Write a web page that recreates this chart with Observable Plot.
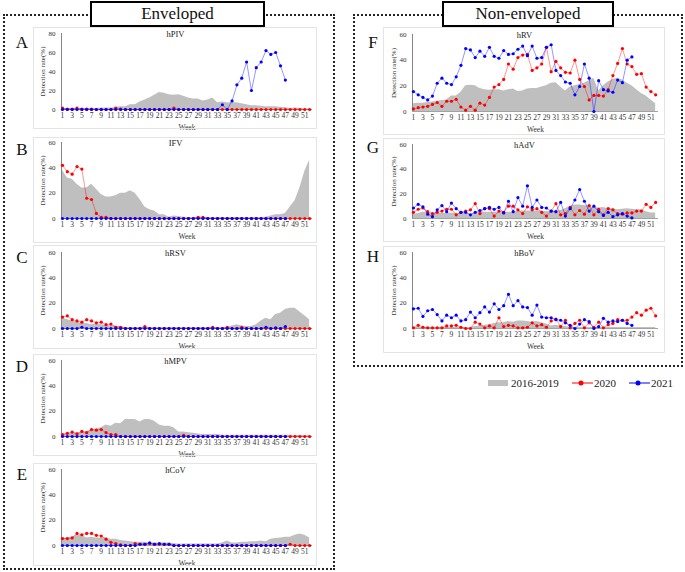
<!DOCTYPE html>
<html><head><meta charset="utf-8">
<script src="https://cdn.jsdelivr.net/npm/d3@7"></script>
<script src="https://cdn.jsdelivr.net/npm/@observablehq/plot@0.6"></script>
<style>
body{margin:0;background:#fff;font-family:"Liberation Serif","Times New Roman",serif;}
#root{position:relative;width:685px;height:572px;overflow:hidden;background:#fff;}
#root svg, #root svg text{font-family:"Liberation Serif","Times New Roman",serif !important;}
.dotbox{position:absolute;border:2px dotted #222;box-sizing:border-box;}
.titlebox{position:absolute;border:2px solid #000;background:#fff;box-sizing:border-box;font-size:17px;text-align:center;line-height:21px;color:#111;}
.letter{position:absolute;font-size:17px;transform:translate(-50%,-50%);color:#111;}
.panel{position:absolute;}
.panel svg{display:block;}
.pborder{position:absolute;border:1px solid #e4e4e4;box-sizing:border-box;pointer-events:none;}
</style>
</head><body><div id="root"></div>
<script>
const weeks = [1,2,3,4,5,6,7,8,9,10,11,12,13,14,15,16,17,18,19,20,21,22,23,24,25,26,27,28,29,30,31,32,33,34,35,36,37,38,39,40,41,42,43,44,45,46,47,48,49,50,51,52];
const oddWeeks = [1,3,5,7,9,11,13,15,17,19,21,23,25,27,29,31,33,35,37,39,41,43,45,47,49,51];
const yTicks80 = [0,20,40,60,80];
const yTicks60 = [0,20,40,60];
const seriesNames = ["2016-2019","2020","2021"];
const seriesColors = ["#bfbfbf","#ff0000","#0000ff"];

// A hPIV
const hPIV_base = [1,1,1,1,1,1,1,1,1.5,1.5,1.5,2,3,3,5,5,8,10,12,15,18,17,15.5,15,15.5,14,12,11,11,9,10,12,7,8,7,7,7,6,5,4,4,3.5,3,3,3,2.5,2,1,1.5,1,0.5,0.5];
const hPIV_2020 = [1.5,0.5,0.5,1.5,0.5,0.5,0.5,0,0,0,0,1.5,0.5,0,0,0,0,0,0,0,0,0,0,1.5,0,0,0,0,0,0,0,0,0,0,0,0,0,0,0,0,0,0,0,0,0,0,0,0,0,0,0,0];
const hPIV_2021 = [0,0,0,0,0,0,0,0,0,0,0,0,0,0,0,0,0,0,0,0,0,0,0,0,0,0,0,0,0,0,0,0,0,5,0,9,26,33,50,20,44,50,62,58,60,46,31];
// B IFV
const IFV_base = [38,32,31,27,24,24,27,23,19,17,17,18,20,20,22,20,15,9,7,6,3,3,1,2,1.5,1,0.7,0.7,0.7,0.7,0.7,0.7,0.7,0.7,0.7,0.7,0.7,0.7,0.7,0.7,0.7,0.7,1,2,3,3,4,9,14,24,37,46];
const IFV_2020 = [42,37,35,41,39,16,15,4,1,1,0,0,0,0,0,0,0,0,0,0,0,0,0,0,0,0,0,0,1,1,0,0,0,0,0,0,0,0,0,0,0,0,0,0,0,0,0,0,0,0,0,0];
const IFV_2021 = [0,0,0,0,0,0,0,0,0,0,0,0,0,0,0,0,0,0,0,0,0,0,0,0,0,0,0,0,0,0,0,0,0,0,0,0,0,0,0,0,0,0,0,0,0,0,0];
// C hRSV
const hRSV_base = [8,7,6,5,4,4,3,3.5,3,2.5,2,2,1.5,0.7,0.7,0.7,0.7,0.7,0.7,0.7,0.7,0.7,0.7,0.7,0.7,0.7,0.7,0.7,0.7,0.7,0.7,0.7,0.7,0.7,0.7,2,3,2,1.5,1.5,3,6,8,7,11,12,15,16,16,13,10,7];
const hRSV_2020 = [9,10,7,6,5,7,6,4.5,5,3,3.5,1,1,0,0,0,0,1.5,0,0,0,0,0,0,0,0,0,0,0,0,0,1,0,0,1,0,0,1,0,0,0,0,0,0,0,0,0,0,0,0,0,0];
const hRSV_2021 = [0,0,0,0,1,0,0,0,0,0,0,0,0,0,0,0,0,0,0,0,0,0,0,0,0,0,0,0,0,0,0,0,0,0,0,0,0,0,0,0,0,0,1,0,0.5,0,1.5];
// D hMPV
const hMPV_base = [2,2,2.5,3,3,4,5,6,7,9,8,10.5,10,13.5,13.5,13.5,11.5,13.5,13.5,12,9,8,8,7,3.5,3.5,3,2.5,2,1.5,1.5,1.5,1.5,1,1,1,1,1,1,1,1,1,1,1,1,1,1,1,0.7,0.7,0.5,0.5];
const hMPV_2020 = [1.5,2.5,3.5,2,4,3,5.5,5,5.5,3,1.5,1.5,0,0,0,0,0,0,0,0,0,0,0,0,0,1,0,0,0,0,0,0,0,0,0,0,0,0,0,0,0,0,0,0,0,0,0,0,0,0,0,0];
const hMPV_2021 = [0,0,0,0,0,0,0,0,0,0,0,0,0,0,0,0,0,0,0,0,0,0,0,0,0,0,0,0,0,0,0,0,0,0,0,0,0,0,0,0,0,0,0,0,0,0,0];
// E hCoV
const hCoV_base = [6,6,6.5,8,8,6,6.5,6,6,6,5,5,4,3.5,3,2.5,2.5,2.5,2,2,2,2,2,1.5,1,1.2,1.2,1.2,1.2,1.2,1.2,1.2,1.2,2,3.5,2,2,2.5,2.5,3,3,3.5,3,5,5.5,6,6.5,6.5,8,9,8,6];
const hCoV_2020 = [5.5,5.5,6,9.5,8.5,9.5,9.5,8,7.5,5,2.5,1.5,0.5,0,0,1.5,1,1,1.5,1,1,1,1,0,0,0,0,0,0,0,0,0,0,0,0,0,0,0,0,0,0,0,0,0,0,0,0,1,0,0,0,0];
const hCoV_2021 = [0,0,0,0,0,0,0,0,0,0,0,0,0,0,0,0,1,1,2,1,1.5,1,1,0,0,0,0,0,0,0,0,0,0,0,0,0,0,0,0,0,0,0,0,0,0,0,0];
// F hRV
const hRV_base = [6,6.5,6.5,7,7.5,8,8.5,9,12,12,15,20,20.5,20,18,17,16.5,17,17,16,17,17.5,15.5,16,17.5,18,18,19,20,22,22.5,19,16,19,20,21,22,24,26,16,20,23,25,26,24.5,22,20,17,14,12,9,6];
const hRV_2020 = [2,3,3.5,4,5.5,7,4,8,8,9.5,3.5,1,4,1,6.5,5,11,19,21,25,37,33,42,44,44.5,32,34,37,50,31,39,34,30.5,30,40,25,19.5,9,12.5,12.5,12,17,28,37.5,49,37,35,29,29.5,19,15.5,13];
const hRV_2021 = [15.5,13,11,9,12,22,26,22,21,27,36,49,48,42,47,43,50,43,41.5,47.5,44.5,45,48.5,51,43.5,51,41.5,42,50,52,32,28,23,22,13,19.5,37,26,0,24,17,16,15,24.5,22.5,40,42.5];
// G hAdV
const hAdV_base = [3,4,5,5,3,4,4,4,4.5,4,4,4,3.5,4,5,5,5,5,5,5,5,5,6,6,6,6,6,6,5.5,6,6,6.5,8,10,11,11,10.5,10,9,8.5,9,8,8,7,7.5,8,7.5,7,7,5.5,4.5,4.5];
const hAdV_2020 = [5,7.5,8.5,5.5,4,5,6,7.5,7.5,3,5,6,7,12,4,8,8,2,6,5,10,10,7,4,9.5,7,8,5,2,6,12,3,4,9,3,6.5,3.5,10.5,3,7.5,3,8,7,4,3.5,4.5,4.5,6,6,11.5,9,13];
const hAdV_2021 = [8.5,11.5,9.5,3.5,1.5,7,10.5,5.5,12.5,8,5,5,3,5,6.5,8,9,7.5,9,4.5,14,5.5,17,10,26.5,9,15,9,8.5,6,5.5,13,2,8,15,23.5,14,6,10,5.5,2.5,5,1.5,3,4,2,0.5];
// H hBoV
const hBoV_base = [0.7,0.7,0.7,0.7,0.7,0.7,0.7,0.7,0.7,0.7,0.7,0.7,0.7,1.5,2,2.5,3,4,4.5,4.5,5.5,5,6,6,5.5,5,5.5,4.5,3.5,2,2.5,2,1.5,0.7,0.7,0.7,0.7,0.7,0.7,0.7,0.7,0.7,0.7,0.7,0.7,0.7,0.7,0.7,0.7,0.7,0.7,0.7];
const hBoV_2020 = [0.5,2.5,1,0.5,0.5,0.5,0.5,2,2,2.5,1,0,0,5,3.5,0.5,2,0.5,8.5,1.5,2.5,2,0.5,0.5,1,4.5,2,3,1,6,7.5,1.5,6.5,0.5,4,6.5,0.5,4.5,1,5,0.5,3,4,7,6.5,6.5,9,12.5,10.5,14.5,16,10];
const hBoV_2021 = [15.5,16,9.5,14,15,11,6,10.5,8.5,10.5,6,7,13,8.5,12.5,17,13,19.5,15,18,27,18,22,17,16.5,10.5,18.5,9,8.5,8.5,7,6.5,4.5,2.5,0,3.5,7,5.5,0,1.5,8,5,6,5.5,6.5,4,2.5];

const panelTitles = ["hPIV","IFV","hRSV","hMPV","hCoV","hRV","hAdV","hBoV"];
const panelLetters = ["A","B","C","D","E","F","G","H"];
const SERIF = "Liberation Serif";

const root = document.getElementById("root");
function el(cls, css, text) {
  const d = document.createElement("div");
  d.className = cls;
  Object.assign(d.style, css);
  if (text != null) d.textContent = text;
  root.appendChild(d);
  return d;
}

// group frames
el("dotbox", {left:"3px", top:"14px", width:"332px", height:"556px"});
el("dotbox", {left:"353px", top:"14px", width:"330px", height:"353px"});
el("titlebox", {left:"90px", top:"1px", width:"175px", height:"26px"}, "Enveloped");
el("titlebox", {left:"442px", top:"1px", width:"172px", height:"26px"}, "Non-enveloped");

function panel(p) {
  const rows = weeks.map((w, i) => ({week: w, base: p.base[i], v2020: p.y2020[i]}));
  const rows21 = p.y2021.map((v, i) => ({week: weeks[i], v2021: v}));
  const x0 = 0.8, x1 = 52.6;
  const svg = Plot.plot({
    width: p.w, height: p.h,
    marginTop: p.mt, marginBottom: p.mb, marginLeft: p.ml, marginRight: p.mr,
    style: {fontFamily: SERIF, fontSize: "7px", color: "#333", background: "white", overflow: "visible"},
    x: {domain: [x0, x1], axis: null},
    y: {domain: [0, p.ymax], axis: null},
    marks: [
      Plot.areaY(rows, {x: "week", y: "base", fill: seriesColors[0]}),
      Plot.ruleY([0], {stroke: "#8a8a8a", strokeWidth: 0.8}),
      Plot.ruleX([x0], {stroke: "#666", strokeWidth: 0.8}),
      Plot.axisY({ticks: p.yticks, tickSize: 0, tickPadding: 6, tickFormat: d => String(d), fontFamily: SERIF,
        label: "Detection rate(%)", labelAnchor: "center", labelArrow: "none", labelOffset: 21}),
      Plot.axisX({ticks: oddWeeks, tickSize: 0, tickPadding: 3, tickFormat: d => String(d), fontFamily: SERIF,
        label: "Week", labelAnchor: "center", labelArrow: "none", labelOffset: 20, fontSize: 7.5}),
      Plot.line(rows, {x: "week", y: "v2020", stroke: seriesColors[1], strokeWidth: 0.7, strokeOpacity: 0.6}),
      Plot.dot(rows, {x: "week", y: "v2020", r: 1.6, fill: seriesColors[1]}),
      Plot.line(rows21, {x: "week", y: "v2021", stroke: seriesColors[2], strokeWidth: 0.7, strokeOpacity: 0.6}),
      Plot.dot(rows21, {x: "week", y: "v2021", r: 1.6, fill: seriesColors[2]}),
      Plot.text([p.title], {frameAnchor: "top", lineAnchor: "middle", dy: 1, dx: (p.mr - p.ml) / 2, fontSize: 8.5, fill: "#222", fontFamily: SERIF})
    ]
  });
  const wrap = el("panel", {left: p.left + "px", top: p.top + "px", width: p.w + "px", height: p.h + "px"});
  wrap.appendChild(svg);
  el("pborder", {left: p.left + "px", top: p.top + "px", width: p.w + "px", height: p.h + "px"});
  el("letter", {left: p.lx + "px", top: p.ly + "px"}, p.letter);
}

const L = {left: 33, w: 284, ml: 28, mr: 5, lx: 22};
const R = {left: 383, w: 282, ml: 29, mr: 7, lx: 373};
const specs = [
  {...L, top: 27,  h: 102, mt: 6, mb: 20, ymax: 80, yticks: yTicks80, base: hPIV_base, y2020: hPIV_2020, y2021: hPIV_2021, ly: 43},
  {...L, top: 137, h: 106, mt: 5, mb: 25, ymax: 60, yticks: yTicks60, base: IFV_base, y2020: IFV_2020, y2021: IFV_2021, ly: 150},
  {...L, top: 245, h: 104, mt: 7, mb: 21, ymax: 60, yticks: yTicks60, base: hRSV_base, y2020: hRSV_2020, y2021: hRSV_2021, ly: 258},
  {...L, top: 354, h: 102, mt: 6, mb: 20, ymax: 60, yticks: yTicks60, base: hMPV_base, y2020: hMPV_2020, y2021: hMPV_2021, ly: 367},
  {...L, top: 463, h: 103, mt: 6, mb: 21, ymax: 60, yticks: yTicks60, base: hCoV_base, y2020: hCoV_2020, y2021: hCoV_2021, ly: 475},
  {...R, top: 27,  h: 108, mt: 7, mb: 24, ymax: 60, yticks: yTicks60, base: hRV_base, y2020: hRV_2020, y2021: hRV_2021, ly: 43},
  {...R, top: 138, h: 104, mt: 6, mb: 24, ymax: 60, yticks: yTicks60, base: hAdV_base, y2020: hAdV_2020, y2021: hAdV_2021, ly: 148},
  {...R, top: 246, h: 107, mt: 6, mb: 25, ymax: 60, yticks: yTicks60, base: hBoV_base, y2020: hBoV_2020, y2021: hBoV_2021, ly: 257}
];
specs.forEach((s, i) => panel({...s, title: panelTitles[i], letter: panelLetters[i]}));

// legend
const legSvg = d3.create("svg").attr("width", 200).attr("height", 14)
  .style("position", "absolute").style("left", "486px").style("top", "376px");
legSvg.append("rect").attr("x", 2).attr("y", 4).attr("width", 20).attr("height", 6).attr("fill", seriesColors[0]);
legSvg.append("line").attr("x1", 86).attr("x2", 107).attr("y1", 7).attr("y2", 7).attr("stroke", seriesColors[1]).attr("stroke-width", 1);
legSvg.append("circle").attr("cx", 95).attr("cy", 7).attr("r", 2.5).attr("fill", seriesColors[1]);
legSvg.append("line").attr("x1", 143).attr("x2", 164).attr("y1", 7).attr("y2", 7).attr("stroke", seriesColors[2]).attr("stroke-width", 1);
legSvg.append("circle").attr("cx", 152).attr("cy", 7).attr("r", 2.5).attr("fill", seriesColors[2]);
[[25, seriesNames[0]], [108, seriesNames[1]], [165, seriesNames[2]]].forEach(([x, t]) =>
  legSvg.append("text").attr("x", x).attr("y", 11).attr("font-size", 11).attr("fill", "#222").text(t));
root.appendChild(legSvg.node());
</script>
</body></html>
